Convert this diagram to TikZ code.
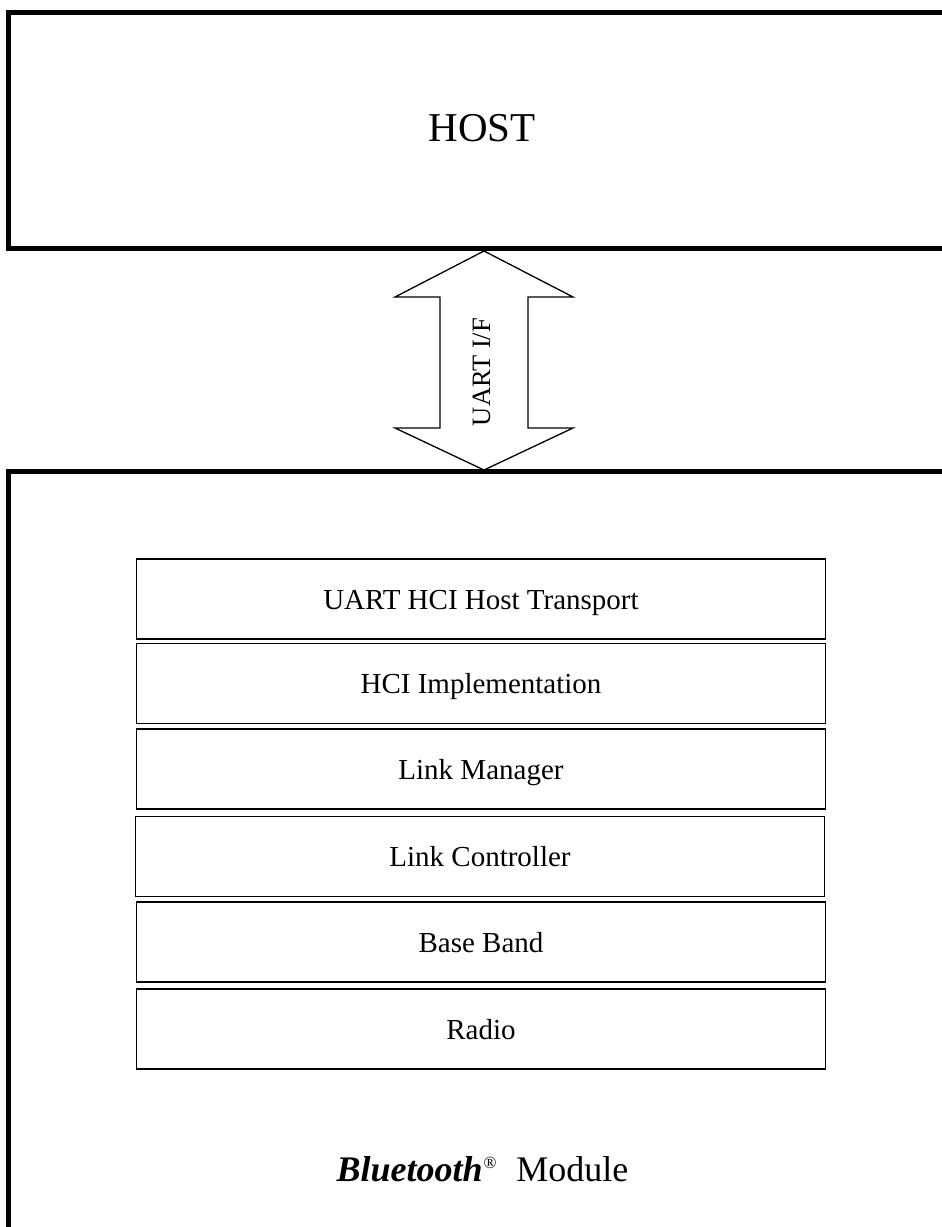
\documentclass[tikz,border=0pt]{standalone}
\usepackage{fontspec}
\setmainfont{Liberation Serif}
\usepackage{tikz}
\usetikzlibrary{positioning}

\begin{document}
\begin{tikzpicture}[x=1pt, y=-1pt,
        outerbox/.style={draw, line width=5pt},
        layer/.style={draw, line width=1.6pt, minimum width=689pt, minimum height=80pt,
            inner sep=0pt, text height=20pt, text depth=0pt, font=\fontsize{29}{34}\selectfont},
        bigtext/.style={anchor=base, inner sep=0pt}]
        \useasboundingbox (0,0) rectangle (942,1227);
        \clip (0,0) rectangle (942,1227);
        % host and module frames (run off the right edge)
        \draw[outerbox] (8.5,12.5) rectangle (980,248);
        \draw[outerbox] (8.5,471.5) rectangle (980,1260);
        \node[bigtext, font=\fontsize{41}{48}\selectfont] (host) at (482,141) {HOST};
        % interface arrow
        \coordinate (up) at (484,251);
        \coordinate (down) at (484,470);
        \draw[line width=1.3pt, line join=miter] (up) -- ++(89,46) -- ++(-45,0) -- ++(0,131)
            -- ++(45,0) -- (down) -- ++(-89,-42) -- ++(45,0) -- ++(0,-131) -- ++(-45,0) -- cycle;
        \node[bigtext, rotate=90, font=\fontsize{26.5}{32}\selectfont] (uart) at (490,372) {UART I/F};
        % protocol stack
        \node[layer] (transport) at (481,599) {UART HCI Host Transport};
        \node[layer] (hci) at (481,683.5) {HCI Implementation};
        \node[layer] (lm) at (481,769) {Link Manager};
        \node[layer] (lc) at (480,856.5) {Link Controller};
        \node[layer] (bb) at (481,942) {Base Band};
        \node[layer] (radio) at (481,1029) {Radio};
        \node[bigtext, font=\fontsize{36}{42}\selectfont] (module) at (482.5,1181)
            {\textbf{\textit{Bluetooth}}\hspace{1pt}\raisebox{0.36em}{\fontsize{17}{17}\selectfont\textregistered}\hspace{20pt}Module};
    \end{tikzpicture}
\end{document}
